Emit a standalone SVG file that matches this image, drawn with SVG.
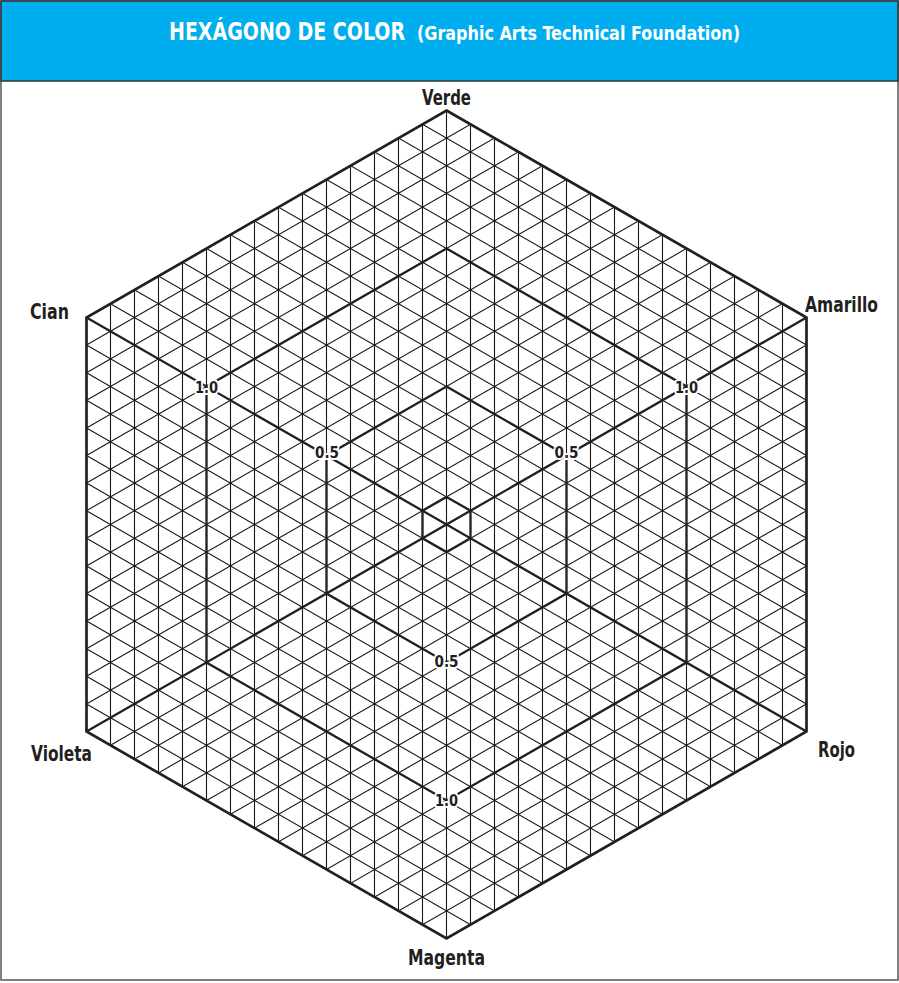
<svg xmlns="http://www.w3.org/2000/svg" width="899" height="983" viewBox="0 0 899 983">
<style>
.lbl{font-family:"Liberation Sans Narrow","DejaVu Sans Condensed","Arial Narrow",sans-serif;font-weight:bold;fill:#231f20;font-size:21px}
.num{font-family:"Liberation Sans Narrow","DejaVu Sans Condensed","Arial Narrow",sans-serif;font-weight:bold;fill:#231f20;font-size:16px;stroke:#fff;stroke-width:4;paint-order:stroke;stroke-linejoin:round;text-anchor:middle}
.title{font-family:"Liberation Sans Narrow","DejaVu Sans Condensed","Arial Narrow",sans-serif;font-weight:bold;fill:#fff}
.grid{fill:none;stroke:#1a1718;stroke-width:1.1}
.bold{fill:none;stroke:#231f20;stroke-width:2.3;stroke-linejoin:miter}
.outer{fill:none;stroke:#231f20;stroke-width:2.7;stroke-linejoin:miter}
</style>
<defs>
<clipPath id="hexclip"><polygon points="446.5,110.5 806.5,317.5 806.5,731.5 446.5,938.5 86.5,731.5 86.5,317.5"/></clipPath>
</defs>
<rect x="1" y="1" width="897" height="979" fill="#fff" stroke="#555" stroke-width="1.5"/>
<g id="header">
<rect x="1" y="1" width="897" height="80" fill="#00aeef" stroke="#333" stroke-width="1.5"/>
<text class="title" x="169" y="40" font-size="24" textLength="236" lengthAdjust="spacingAndGlyphs">HEXÁGONO DE COLOR</text>
<text class="title" x="417" y="40" font-size="19" textLength="323" lengthAdjust="spacingAndGlyphs">(Graphic Arts Technical Foundation)</text>
</g>
<g id="grid" clip-path="url(#hexclip)">
<path class="grid" d="M110.5 100V950M134.5 100V950M158.5 100V950M182.5 100V950M206.5 100V950M230.5 100V950M254.5 100V950M278.5 100V950M302.5 100V950M326.5 100V950M350.5 100V950M374.5 100V950M398.5 100V950M422.5 100V950M446.5 100V950M470.5 100V950M494.5 100V950M518.5 100V950M542.5 100V950M566.5 100V950M590.5 100V950M614.5 100V950M638.5 100V950M662.5 100V950M686.5 100V950M710.5 100V950M734.5 100V950M758.5 100V950M782.5 100V950"/>
<path class="grid" d="M86.5 -68.9L806.5 345.1M86.5 -41.3L806.5 372.7M86.5 -13.7L806.5 400.3M86.5 13.9L806.5 427.9M86.5 41.5L806.5 455.5M86.5 69.1L806.5 483.1M86.5 96.7L806.5 510.7M86.5 124.3L806.5 538.3M86.5 151.9L806.5 565.9M86.5 179.5L806.5 593.5M86.5 207.1L806.5 621.1M86.5 234.7L806.5 648.7M86.5 262.3L806.5 676.3M86.5 289.9L806.5 703.9M86.5 345.1L806.5 759.1M86.5 372.7L806.5 786.7M86.5 400.3L806.5 814.3M86.5 427.9L806.5 841.9M86.5 455.5L806.5 869.5M86.5 483.1L806.5 897.1M86.5 510.7L806.5 924.7M86.5 538.3L806.5 952.3M86.5 565.9L806.5 979.9M86.5 593.5L806.5 1007.5M86.5 621.1L806.5 1035.1M86.5 648.7L806.5 1062.7M86.5 676.3L806.5 1090.3M86.5 703.9L806.5 1117.9"/>
<path class="grid" d="M806.5 -68.9L86.5 345.1M806.5 -41.3L86.5 372.7M806.5 -13.7L86.5 400.3M806.5 13.9L86.5 427.9M806.5 41.5L86.5 455.5M806.5 69.1L86.5 483.1M806.5 96.7L86.5 510.7M806.5 124.3L86.5 538.3M806.5 151.9L86.5 565.9M806.5 179.5L86.5 593.5M806.5 207.1L86.5 621.1M806.5 234.7L86.5 648.7M806.5 262.3L86.5 676.3M806.5 289.9L86.5 703.9M806.5 345.1L86.5 759.1M806.5 372.7L86.5 786.7M806.5 400.3L86.5 814.3M806.5 427.9L86.5 841.9M806.5 455.5L86.5 869.5M806.5 483.1L86.5 897.1M806.5 510.7L86.5 924.7M806.5 538.3L86.5 952.3M806.5 565.9L86.5 979.9M806.5 593.5L86.5 1007.5M806.5 621.1L86.5 1035.1M806.5 648.7L86.5 1062.7M806.5 676.3L86.5 1090.3M806.5 703.9L86.5 1117.9"/>
</g>
<g id="connectors">
<path class="bold" d="M86.5 317.5L806.5 731.5M86.5 731.5L806.5 317.5"/>
<polygon class="bold" points="446.5,248.5 686.5,386.5 686.5,662.5 446.5,800.5 206.5,662.5 206.5,386.5"/>
<polygon class="bold" points="446.5,386.5 566.5,455.5 566.5,593.5 446.5,662.5 326.5,593.5 326.5,455.5"/>
<polygon class="bold" points="446.5,496.9 470.5,510.7 470.5,538.3 446.5,552.1 422.5,538.3 422.5,510.7"/>
</g>
<g id="hexagon">
<polygon class="outer" points="446.5,110.5 806.5,317.5 806.5,731.5 446.5,938.5 86.5,731.5 86.5,317.5"/>
</g>
<g id="scale-labels">
<text class="num" x="206.5" y="393" textLength="23" lengthAdjust="spacingAndGlyphs">1.0</text>
<text class="num" x="686.5" y="393" textLength="23" lengthAdjust="spacingAndGlyphs">1.0</text>
<text class="num" x="446.5" y="806" textLength="23" lengthAdjust="spacingAndGlyphs">1.0</text>
<text class="num" x="327" y="458" textLength="24" lengthAdjust="spacingAndGlyphs">0.5</text>
<text class="num" x="566.5" y="458" textLength="24" lengthAdjust="spacingAndGlyphs">0.5</text>
<text class="num" x="446.5" y="667" textLength="24" lengthAdjust="spacingAndGlyphs">0.5</text>
</g>
<g id="node-verde"><text class="lbl" x="422" y="105" textLength="49" lengthAdjust="spacingAndGlyphs">Verde</text></g>
<g id="node-amarillo"><text class="lbl" x="805" y="312" textLength="73" lengthAdjust="spacingAndGlyphs">Amarillo</text></g>
<g id="node-rojo"><text class="lbl" x="818" y="757" textLength="37" lengthAdjust="spacingAndGlyphs">Rojo</text></g>
<g id="node-magenta"><text class="lbl" x="408" y="965" textLength="77" lengthAdjust="spacingAndGlyphs">Magenta</text></g>
<g id="node-violeta"><text class="lbl" x="31" y="761" textLength="61" lengthAdjust="spacingAndGlyphs">Violeta</text></g>
<g id="node-cian"><text class="lbl" x="30" y="319" textLength="39" lengthAdjust="spacingAndGlyphs">Cian</text></g>
</svg>
